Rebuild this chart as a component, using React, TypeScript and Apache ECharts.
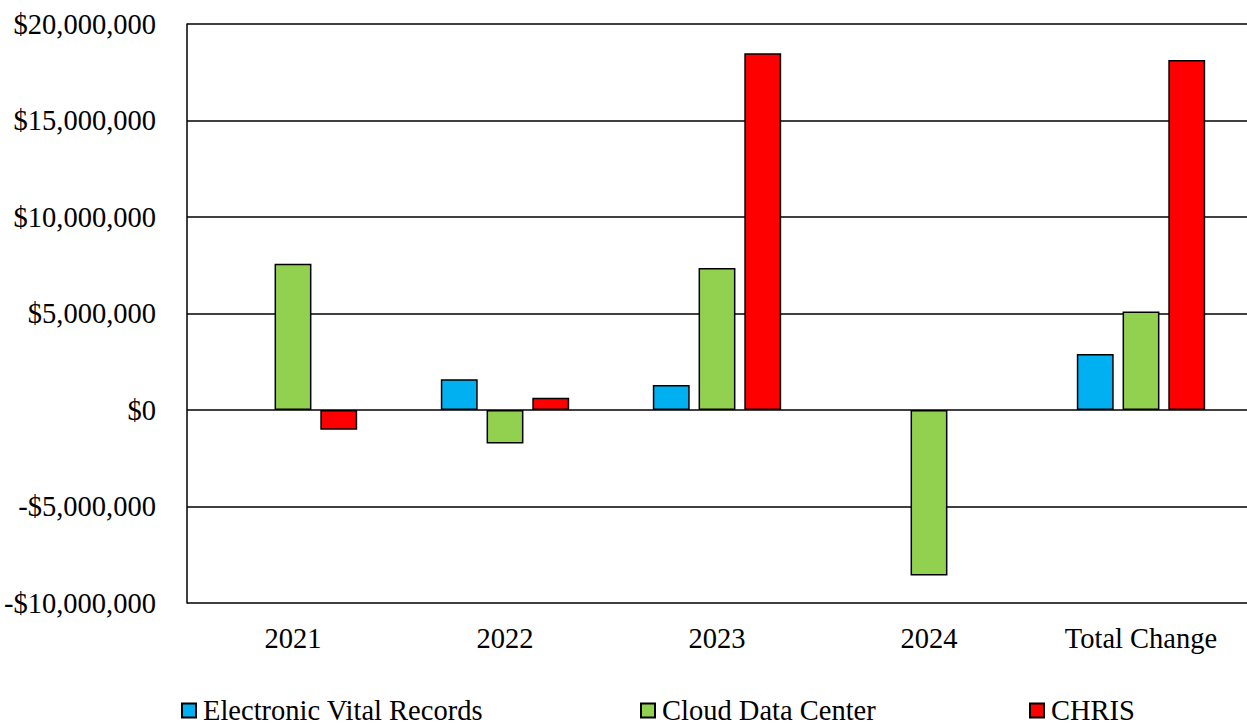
import React, { useEffect, useRef } from "react";
import * as echarts from "echarts";

const categories = ["2021", "2022", "2023", "2024", "Total Change"];
// null marks a category with no bar for that series
const electronicVitalRecords = [null, 1590000, 1300000, null, 2900000];
const cloudDataCenter = [7580000, -1730000, 7360000, -8570000, 5110000];
const chris = [-1020000, 640000, 18490000, null, 18130000];

const seriesNames = ["Electronic Vital Records", "Cloud Data Center", "CHRIS"];
const seriesColors = ["#00B0F0", "#92D050", "#FF0000"];
const seriesValues = [electronicVitalRecords, cloudDataCenter, chris];

const FONT = "'Liberation Serif', 'Times New Roman', serif";
const FONT_SIZE = 28.5;

function formatMoney(v: number): string {
  const abs = Math.abs(v).toLocaleString("en-US");
  return (v < 0 ? "-$" : "$") + abs;
}

export default function App() {
  const ref = useRef<HTMLDivElement>(null);

  useEffect(() => {
    if (!ref.current) return;
    const chart = echarts.init(ref.current, null, { renderer: "svg" });
    const legendLefts = [181, 640, 1029];
    chart.setOption({
      animation: false,
      backgroundColor: "#ffffff",
      textStyle: { fontFamily: FONT },
      grid: { left: 187, right: -3, top: 24, bottom: 124, containLabel: false },
      legend: seriesNames.map((name, i) => ({
        data: [name],
        left: legendLefts[i],
        top: 696,
        icon: "rect",
        itemWidth: 14,
        itemHeight: 14,
        itemGap: 6,
        padding: 0,
        textStyle: { fontFamily: FONT, fontSize: FONT_SIZE, color: "#000", padding: [0, 0, 0, 2] },
      })),
      xAxis: {
        type: "category",
        data: categories,
        axisLine: { show: false },
        axisTick: { show: false },
        axisLabel: { fontFamily: FONT, fontSize: FONT_SIZE, color: "#000", margin: 21 },
      },
      yAxis: {
        type: "value",
        min: -10000000,
        max: 20000000,
        interval: 5000000,
        axisLine: { show: true, lineStyle: { color: "#000", width: 1.5 } },
        axisTick: { show: false },
        splitLine: { show: true, lineStyle: { color: "#000", width: 1.5 } },
        axisLabel: {
          fontFamily: FONT,
          fontSize: FONT_SIZE,
          color: "#000",
          margin: 31,
          formatter: (v: number) => formatMoney(v),
        },
      },
      series: seriesNames.map((name, i) => ({
        name,
        type: "bar",
        data: seriesValues[i],
        barWidth: "17.4%",
        barGap: "24%",
        itemStyle: { color: seriesColors[i], borderColor: "#000", borderWidth: 1.5 },
      })),
    });
    return () => chart.dispose();
  }, []);

  return (
    <div
      ref={ref}
      style={{ position: "absolute", left: 0, top: 0, width: 1247, height: 727 }}
    />
  );
}
